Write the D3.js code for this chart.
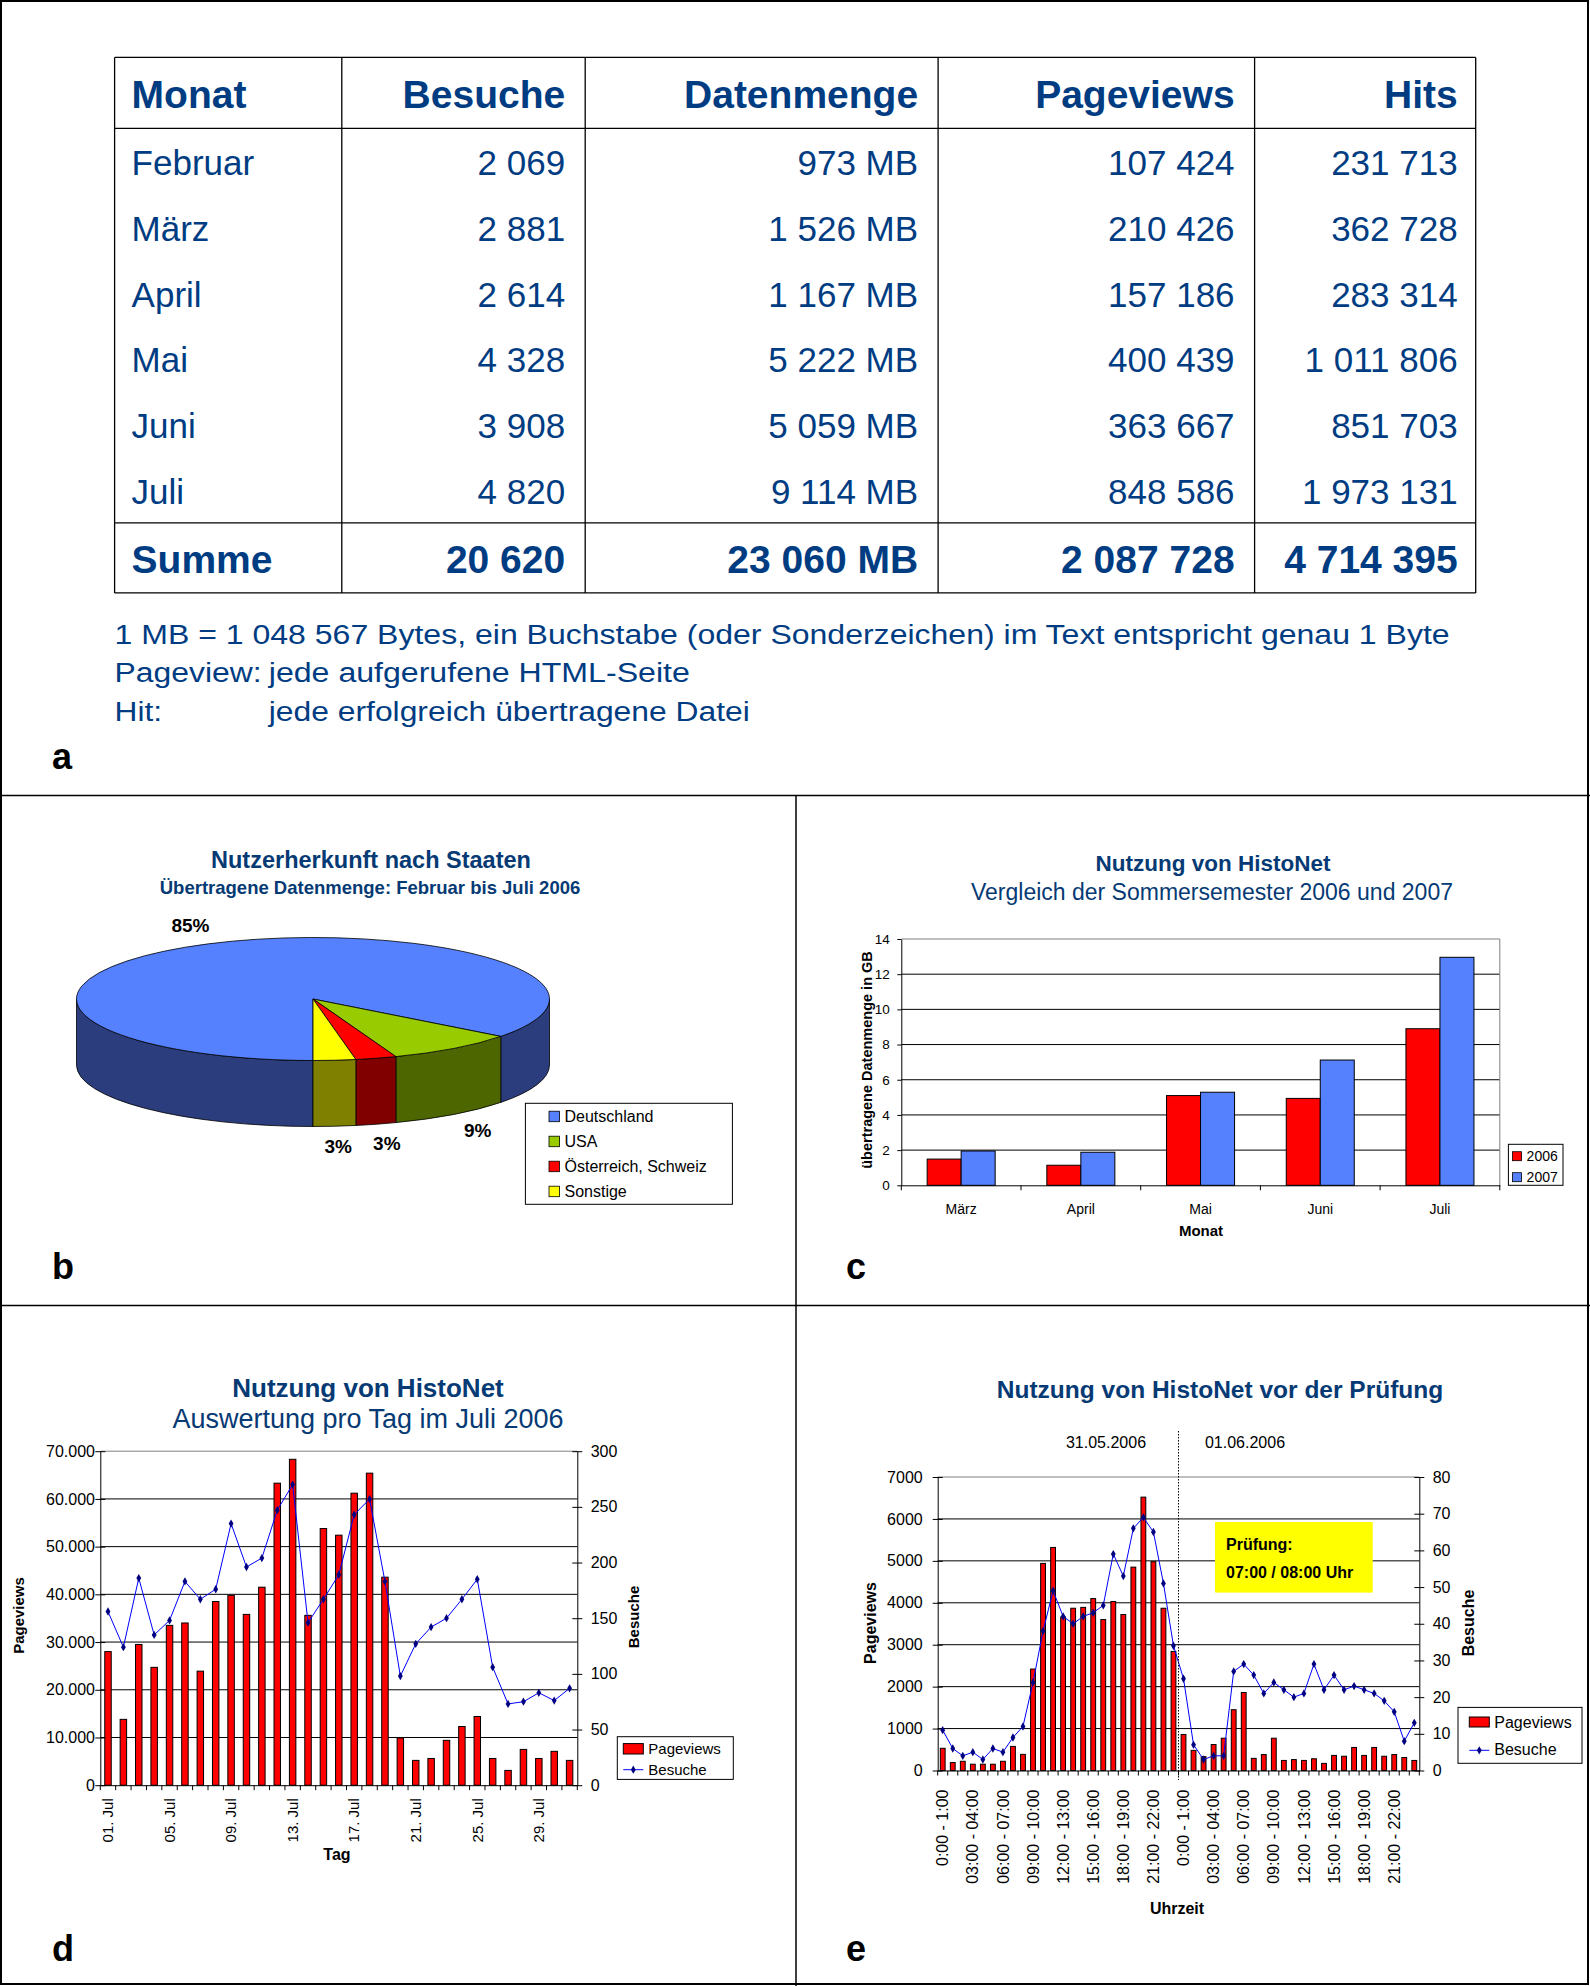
<!DOCTYPE html>
<html lang="de">
<head>
<meta charset="UTF-8">
<title>HistoNet Nutzung</title>
<style>
  body { margin: 0; background: #fff; }
  svg { display: block; }
  text { font-family: Arial, "Liberation Sans", sans-serif; }
</style>
</head>
<body>
<svg id="fig" width="1590" height="1986"></svg>
<script src="https://d3js.org/d3.v7.min.js"></script>
<script>
// ---- a: Tabelle
const monate = ["Februar", "März", "April", "Mai", "Juni", "Juli"];
const besuche = [2069, 2881, 2614, 4328, 3908, 4820];
const datenmengeMB = [973, 1526, 1167, 5222, 5059, 9114];
const pageviews = [107424, 210426, 157186, 400439, 363667, 848586];
const hits = [231713, 362728, 283314, 1011806, 851703, 1973131];
const summen = [20620, 23060, 2087728, 4714395];
const spalten = ["Monat", "Besuche", "Datenmenge", "Pageviews", "Hits"];

// ---- b: Nutzerherkunft
const staaten = ["Deutschland", "USA", "Österreich, Schweiz", "Sonstige"];
const staatenAnteil = [85.4, 8.9, 2.8, 2.9];

// ---- c: Sommersemester 2006 / 2007 (GB)
const cMonate = ["März", "April", "Mai", "Juni", "Juli"];
const cJahre = ["2006", "2007"];
const cGB2006 = [1.49, 1.14, 5.10, 4.94, 8.90];
const cGB2007 = [1.95, 1.88, 5.29, 7.12, 12.96];
const cYTicks = [0, 2, 4, 6, 8, 10, 12, 14];

// ---- d: pro Tag im Juli 2006
const dTage = ["01. Jul","02. Jul","03. Jul","04. Jul","05. Jul","06. Jul","07. Jul","08. Jul",
  "09. Jul","10. Jul","11. Jul","12. Jul","13. Jul","14. Jul","15. Jul","16. Jul","17. Jul",
  "18. Jul","19. Jul","20. Jul","21. Jul","22. Jul","23. Jul","24. Jul","25. Jul","26. Jul",
  "27. Jul","28. Jul","29. Jul","30. Jul","31. Jul"];
const dPageviews = [28000, 13800, 29500, 24700, 33500, 34000, 23900, 38500, 39800, 35800, 41500,
  63300, 68300, 35600, 53800, 52400, 61200, 65400, 43600, 9900, 5200, 5600, 9400, 12300, 14400,
  5600, 3100, 7500, 5600, 7100, 5200];
const dBesuche = [156, 124, 186, 135, 148, 183, 167, 176, 235, 196, 204, 247, 270, 146, 167, 189,
  243, 257, 183, 98, 127, 142, 150, 167, 185, 106, 73, 75, 83, 76, 87];
const dYLTicks = [0, 10000, 20000, 30000, 40000, 50000, 60000, 70000];
const dYRTicks = [0, 50, 100, 150, 200, 250, 300];

// ---- e: vor der Prüfung (31.05. / 01.06.2006, je Stunde)
const eStunden = ["0:00 - 1:00","01:00 - 02:00","02:00 - 03:00","03:00 - 04:00","04:00 - 05:00",
  "05:00 - 06:00","06:00 - 07:00","07:00 - 08:00","08:00 - 09:00","09:00 - 10:00","10:00 - 11:00",
  "11:00 - 12:00","12:00 - 13:00","13:00 - 14:00","14:00 - 15:00","15:00 - 16:00","16:00 - 17:00",
  "17:00 - 18:00","18:00 - 19:00","19:00 - 20:00","20:00 - 21:00","21:00 - 22:00","22:00 - 23:00",
  "23:00 - 0:00"];
const eTage = ["31.05.2006", "01.06.2006"];
const ePageviews = [530, 190, 220, 150, 150, 150, 220, 575, 385, 2420, 4940, 5320, 3660, 3870, 3890,
  4100, 3600, 4030, 3720, 4850, 6520, 4980, 3870, 2840,
  860, 480, 330, 620, 770, 1450, 1860, 290, 380, 770, 240, 260, 240, 280, 170, 360, 340, 550,
  360, 550, 340, 380, 310, 240];
const eBesuche = [11, 6, 4, 5, 3, 6, 5, 9, 12, 24, 38, 49, 42, 40, 42, 43, 45, 59, 53, 66, 69, 65, 51, 34,
  25, 7, 3, 4, 4, 27, 29, 26, 21, 24, 22, 20, 21, 29, 22, 26, 22, 23, 22, 21, 19, 16, 8, 13];
const eYLTicks = [0, 1000, 2000, 3000, 4000, 5000, 6000, 7000];
const eYRTicks = [0, 10, 20, 30, 40, 50, 60, 70, 80];

// ---------------------------------------------------------------
const svg = d3.select("#fig");
const TBLUE = "#003c82";
const HBLUE = "#063a74";
const fmtPunkt = d3.formatLocale({decimal: ",", thousands: ".", grouping: [3], currency: ["", ""]}).format(",d");
const fmtLeer = d3.formatLocale({decimal: ",", thousands: " ", grouping: [3], currency: ["", ""]}).format(",d");

// Rahmen
svg.append("rect").attr("x", 1).attr("y", 1).attr("width", 1587).attr("height", 1983)
  .attr("fill", "none").attr("stroke", "#000").attr("stroke-width", 2);
svg.append("line").attr("x1", 0).attr("x2", 1590).attr("y1", 795.5).attr("y2", 795.5).attr("stroke", "#000").attr("stroke-width", 1.5);
svg.append("line").attr("x1", 0).attr("x2", 1590).attr("y1", 1305.5).attr("y2", 1305.5).attr("stroke", "#000").attr("stroke-width", 1.5);
svg.append("line").attr("x1", 796).attr("x2", 796).attr("y1", 795.5).attr("y2", 1986).attr("stroke", "#000").attr("stroke-width", 1.5);

function letter(t, x, y) {
  svg.append("text").attr("x", x).attr("y", y).attr("font-size", 36).attr("font-weight", "bold").text(t);
}
letter("a", 52, 769);
letter("b", 52, 1279);
letter("c", 846, 1279);
letter("d", 52, 1961);
letter("e", 846, 1961);

// ================= a: Tabelle =================
(function () {
  const colX = [114.6, 341.8, 585.2, 938.1, 1254.6, 1475.7];
  const top = 57.4, headY = 128.4, sumY = 522.8, bot = 592.9;
  const g = svg.append("g");
  const ln = (x1, y1, x2, y2) => g.append("line").attr("x1", x1).attr("y1", y1).attr("x2", x2).attr("y2", y2)
    .attr("stroke", "#000").attr("stroke-width", 1.3);
  ln(colX[0], top, colX[5], top); ln(colX[0], headY, colX[5], headY);
  ln(colX[0], sumY, colX[5], sumY); ln(colX[0], bot, colX[5], bot);
  colX.forEach(x => ln(x, top, x, bot));

  const textX = (i) => i === 0 ? colX[0] + 17 : colX[i + 1] - (i === 4 ? 18 : 20);
  const anchor = (i) => i === 0 ? "start" : "end";

  spalten.forEach((s, i) => {
    g.append("text").attr("x", textX(i)).attr("y", 107.6).attr("text-anchor", anchor(i))
      .attr("font-size", 39).attr("font-weight", "bold").attr("fill", TBLUE).text(s);
  });

  const rowY = d3.scalePoint().domain(monate).range([175, 504]);
  const cols = [monate, besuche.map(fmtLeer), datenmengeMB.map(v => fmtLeer(v) + " MB"),
    pageviews.map(fmtLeer), hits.map(fmtLeer)];
  monate.forEach((m, r) => {
    cols.forEach((c, i) => {
      g.append("text").attr("x", textX(i)).attr("y", rowY(m)).attr("text-anchor", anchor(i))
        .attr("font-size", 35).attr("fill", TBLUE).text(c[r]);
    });
  });
  const sumTexte = ["Summe", fmtLeer(summen[0]), fmtLeer(summen[1]) + " MB", fmtLeer(summen[2]), fmtLeer(summen[3])];
  sumTexte.forEach((s, i) => {
    g.append("text").attr("x", textX(i)).attr("y", 572.6).attr("text-anchor", anchor(i))
      .attr("font-size", 39).attr("font-weight", "bold").attr("fill", TBLUE).text(s);
  });

  const note = (t, x, y, len) => g.append("text").attr("x", x).attr("y", y).attr("font-size", 27)
    .attr("fill", TBLUE).attr("textLength", len).attr("lengthAdjust", "spacingAndGlyphs").text(t);
  note("1 MB = 1 048 567 Bytes, ein Buchstabe (oder Sonderzeichen) im Text entspricht genau 1 Byte", 114.6, 643.7, 1335);
  note("Pageview:", 114.6, 681.7, 147);
  note("jede aufgerufene HTML-Seite", 268.8, 681.7, 421);
  note("Hit:", 114.6, 720.8, 47.5);
  note("jede erfolgreich übertragene Datei", 268.8, 720.8, 481);
})();

// ================= b: Torte =================
(function () {
  const g = svg.append("g");
  g.append("text").attr("x", 371).attr("y", 868).attr("text-anchor", "middle").attr("font-size", 23.5)
    .attr("font-weight", "bold").attr("fill", HBLUE).text("Nutzerherkunft nach Staaten");
  g.append("text").attr("x", 370).attr("y", 894).attr("text-anchor", "middle").attr("font-size", 18.5)
    .attr("font-weight", "bold").attr("fill", HBLUE).text("Übertragene Datenmenge: Februar bis Juli 2006");

  const topCol = ["#5581ff", "#99cc00", "#ff0000", "#ffff00"];
  const sideCol = ["#2b3d7c", "#4d6600", "#800000", "#808000"];
  const P = {cx: 313, cy: 999, rx: 236.5, ry: 61.5, h: 66};
  const pt = (a, dy = 0) => [P.cx + P.rx * Math.sin(a), P.cy - P.ry * Math.cos(a) + dy];
  const arcs = d3.pie().sort(null).startAngle(-Math.PI).endAngle(Math.PI)(staatenAnteil);

  const topPath = (a0, a1) => {
    const large = (a1 - a0) > Math.PI ? 1 : 0;
    return `M${P.cx},${P.cy}L${pt(a0)}A${P.rx},${P.ry} 0 ${large} 1 ${pt(a1)}Z`;
  };
  const sidePath = (a0, a1) =>
    `M${pt(a0)}A${P.rx},${P.ry} 0 0 1 ${pt(a1)}L${pt(a1, P.h)}A${P.rx},${P.ry} 0 0 0 ${pt(a0, P.h)}Z`;
  const front = [[-Math.PI, -Math.PI / 2], [Math.PI / 2, Math.PI]];

  arcs.forEach((a, i) => {
    front.forEach(([f0, f1]) => {
      const s = Math.max(a.startAngle, f0), e = Math.min(a.endAngle, f1);
      if (e > s) g.append("path").attr("d", sidePath(s, e)).attr("fill", sideCol[i])
        .attr("stroke", "#000").attr("stroke-width", 0.8).attr("stroke-linejoin", "round");
    });
  });
  arcs.forEach((a, i) => {
    g.append("path").attr("d", topPath(a.startAngle, a.endAngle)).attr("fill", topCol[i])
      .attr("stroke", "#000").attr("stroke-width", 0.8).attr("stroke-linejoin", "round");
  });

  arcs.forEach(a => {
    const m = (a.startAngle + a.endAngle) / 2;
    const fr = -Math.cos(m) > 0;
    const x = P.cx + P.rx * Math.sin(m) * 1.17;
    const y = P.cy - P.ry * Math.cos(m) * 1.33 + (fr ? P.h : 0);
    g.append("text").attr("x", x).attr("y", y).attr("dy", "0.35em").attr("text-anchor", "middle")
      .attr("font-size", 19).attr("font-weight", "bold").text(Math.round(a.data) + "%");
  });

  // Legende
  const lg = g.append("g");
  lg.append("rect").attr("x", 525.4).attr("y", 1103.3).attr("width", 207).attr("height", 101)
    .attr("fill", "#fff").attr("stroke", "#000").attr("stroke-width", 1);
  const ly = d3.scalePoint().domain(staaten).range([1121.7, 1196.7]);
  staaten.forEach((s, i) => {
    lg.append("rect").attr("x", 549).attr("y", ly(s) - 10.5).attr("width", 10.5).attr("height", 10.5)
      .attr("fill", topCol[i]).attr("stroke", "#000").attr("stroke-width", 0.8);
    lg.append("text").attr("x", 564.5).attr("y", ly(s)).attr("font-size", 16).text(s);
  });
})();

// ================= c: Balken 2006/2007 =================
(function () {
  const g = svg.append("g");
  g.append("text").attr("x", 1213).attr("y", 870.7).attr("text-anchor", "middle").attr("font-size", 22.5)
    .attr("font-weight", "bold").attr("fill", HBLUE).text("Nutzung von HistoNet");
  g.append("text").attr("x", 1212).attr("y", 900).attr("text-anchor", "middle").attr("font-size", 23)
    .attr("fill", HBLUE).text("Vergleich der Sommersemester 2006 und 2007");

  const x0 = d3.scaleBand().domain(cMonate).range([901.3, 1499.8]);
  const x1 = d3.scaleBand().domain(cJahre).range([0, x0.bandwidth()]).paddingOuter(0.76);
  const y = d3.scaleLinear().domain([0, 14]).range([1185.3, 939]);
  const [L, R] = x0.range();

  g.selectAll(".grid").data(cYTicks.filter(t => t > 0 && t < 14)).join("line")
    .attr("x1", L).attr("x2", R).attr("y1", d => y(d)).attr("y2", d => y(d)).attr("stroke", "#000");
  g.append("line").attr("x1", L).attr("x2", R).attr("y1", y(14)).attr("y2", y(14)).attr("stroke", "#808080");
  g.append("line").attr("x1", R).attr("x2", R).attr("y1", y(14)).attr("y2", y(0)).attr("stroke", "#808080");

  const colors = {"2006": "#ff0000", "2007": "#5581ff"};
  const series = {"2006": cGB2006, "2007": cGB2007};
  cJahre.forEach(j => {
    g.selectAll(".bar" + j).data(series[j]).join("rect")
      .attr("x", (d, i) => x0(cMonate[i]) + x1(j)).attr("width", x1.bandwidth())
      .attr("y", d => y(d)).attr("height", d => y(0) - y(d))
      .attr("fill", colors[j]).attr("stroke", "#000").attr("stroke-width", 1);
  });

  const ay = g.append("g").attr("transform", `translate(${L},0)`)
    .call(d3.axisLeft(y).tickValues(cYTicks).tickSizeInner(4).tickSizeOuter(0).tickPadding(7.5));
  ay.attr("font-size", 13.5);
  ay.selectAll("text").attr("fill", "#000");

  const ax = g.append("g").attr("transform", `translate(0,${y(0)})`)
    .call(d3.axisBottom(x0).tickSize(0).tickPadding(19));
  ax.attr("font-size", 14);
  ax.selectAll("text").attr("fill", "#000");
  g.selectAll(".xt").data(d3.range(cMonate.length + 1)).join("line")
    .attr("x1", i => L + i * x0.step()).attr("x2", i => L + i * x0.step())
    .attr("y1", y(0)).attr("y2", y(0) + 5).attr("stroke", "#000");

  g.append("text").attr("x", 1201).attr("y", 1236).attr("text-anchor", "middle").attr("font-size", 15)
    .attr("font-weight", "bold").text("Monat");
  g.append("text").attr("transform", "translate(867.4,1060) rotate(-90)").attr("dy", "0.35em")
    .attr("text-anchor", "middle").attr("font-size", 14.5).attr("font-weight", "bold")
    .text("übertragene Datenmenge in GB");

  const lg = g.append("g");
  lg.append("rect").attr("x", 1508.4).attr("y", 1144.3).attr("width", 54.6).attr("height", 41)
    .attr("fill", "#fff").attr("stroke", "#000");
  const ly = d3.scalePoint().domain(cJahre).range([1160.7, 1181.7]);
  cJahre.forEach(j => {
    lg.append("rect").attr("x", 1512.5).attr("y", ly(j) - 9).attr("width", 9).attr("height", 9)
      .attr("fill", colors[j]).attr("stroke", "#000").attr("stroke-width", 0.8);
    lg.append("text").attr("x", 1526.6).attr("y", ly(j)).attr("font-size", 14).text(j);
  });
})();

// gemeinsame Hilfen für d und e
const diamond = d3.symbol().type(d3.symbolDiamond).size(20);
function comboChart(o) {
  const g = svg.append("g");
  const [L, R] = o.x.range();
  const y0 = o.yL.range()[0], yTop = o.yL.range()[1];

  g.selectAll(".grid").data(o.yLTicks.slice(1, -1)).join("line")
    .attr("x1", L).attr("x2", R).attr("y1", d => o.yL(d)).attr("y2", d => o.yL(d)).attr("stroke", "#000");
  g.append("line").attr("x1", L).attr("x2", R).attr("y1", yTop).attr("y2", yTop).attr("stroke", "#808080");

  g.selectAll(".bar").data(o.bars).join("rect")
    .attr("x", (d, i) => o.x(o.keys[i])).attr("width", o.x.bandwidth())
    .attr("y", d => o.yL(d)).attr("height", d => y0 - o.yL(d))
    .attr("fill", "#ff0000").attr("stroke", "#000").attr("stroke-width", 1);

  const axL = g.append("g").attr("transform", `translate(${L},0)`)
    .call(d3.axisLeft(o.yL).tickValues(o.yLTicks).tickFormat(o.fmtL).tickSizeInner(5).tickSizeOuter(0).tickPadding(o.padL));
  axL.selectAll(".tick line").attr("x1", 5);
  axL.attr("font-size", o.fs); axL.selectAll("text").attr("fill", "#000");

  const axR = g.append("g").attr("transform", `translate(${R},0)`)
    .call(d3.axisRight(o.yR).tickValues(o.yRTicks).tickSizeInner(5).tickSizeOuter(0).tickPadding(o.padR));
  axR.selectAll(".tick line").attr("x1", -5);
  axR.attr("font-size", o.fs); axR.selectAll("text").attr("fill", "#000");

  const axB = g.append("g").attr("transform", `translate(0,${y0})`)
    .call(d3.axisBottom(o.x).tickValues(o.keys.filter((k, i) => o.showLabel(i)))
      .tickFormat(o.label).tickSize(0));
  axB.attr("font-size", o.fsX);
  axB.selectAll("text").attr("fill", "#000").attr("transform", "rotate(-90)")
    .attr("text-anchor", "end").attr("x", -o.gapX).attr("y", 0).attr("dy", "0.35em");
  g.selectAll(".xt").data(d3.range(o.keys.length + 1)).join("line")
    .attr("x1", i => L + i * o.x.step()).attr("x2", i => L + i * o.x.step())
    .attr("y1", y0).attr("y2", y0 + 5).attr("stroke", "#000");

  const cx = (i) => o.x(o.keys[i]) + o.x.bandwidth() / 2;
  g.append("path").datum(o.line)
    .attr("d", d3.line().x((d, i) => cx(i)).y(d => o.yR(d)))
    .attr("fill", "none").attr("stroke", "#0000ff").attr("stroke-width", 1);
  g.selectAll(".mk").data(o.line).join("path")
    .attr("transform", (d, i) => `translate(${cx(i)},${o.yR(d)})`).attr("d", diamond).attr("fill", "#000080");
  return {g};
}

function legend(g, box, sw, t1, t2, fs) {
  g.append("rect").attr("x", box[0]).attr("y", box[1]).attr("width", box[2]).attr("height", box[3])
    .attr("fill", "#fff").attr("stroke", "#000");
  g.append("rect").attr("x", sw[0]).attr("y", sw[1]).attr("width", 20).attr("height", sw[2])
    .attr("fill", "#ff0000").attr("stroke", "#000");
  g.append("line").attr("x1", sw[0]).attr("x2", sw[0] + 20).attr("y1", sw[3]).attr("y2", sw[3]).attr("stroke", "#0000ff");
  g.append("path").attr("transform", `translate(${sw[0] + 10},${sw[3]})`).attr("d", diamond).attr("fill", "#000080");
  g.append("text").attr("x", sw[0] + 25).attr("y", t1).attr("font-size", fs).text("Pageviews");
  g.append("text").attr("x", sw[0] + 25).attr("y", t2).attr("font-size", fs).text("Besuche");
}

// ================= d: Juli 2006 =================
(function () {
  const x = d3.scaleBand().domain(dTage).range([100.3, 577.3]).paddingInner(0.58).paddingOuter(0.29);
  const yL = d3.scaleLinear().domain([0, 70000]).range([1785.2, 1451.2]);
  const yR = d3.scaleLinear().domain([0, 300]).range([1785.2, 1451.2]);
  const {g} = comboChart({x, yL, yR, keys: dTage, bars: dPageviews, line: dBesuche,
    yLTicks: dYLTicks, yRTicks: dYRTicks, fmtL: fmtPunkt, padL: 0.3, padR: 8.4, fs: 16, fsX: 15,
    showLabel: i => i % 4 === 0, label: d => d, gapX: 13});

  g.append("text").attr("x", 368).attr("y", 1396.8).attr("text-anchor", "middle").attr("font-size", 26)
    .attr("font-weight", "bold").attr("fill", HBLUE).text("Nutzung von HistoNet");
  g.append("text").attr("x", 368).attr("y", 1427.8).attr("text-anchor", "middle").attr("font-size", 27)
    .attr("fill", HBLUE).text("Auswertung pro Tag im Juli 2006");
  g.append("text").attr("transform", "translate(18.3,1615.5) rotate(-90)").attr("dy", "0.35em")
    .attr("text-anchor", "middle").attr("font-size", 15).attr("font-weight", "bold").text("Pageviews");
  g.append("text").attr("transform", "translate(633.7,1617) rotate(-90)").attr("dy", "0.35em")
    .attr("text-anchor", "middle").attr("font-size", 15).attr("font-weight", "bold").text("Besuche");
  g.append("text").attr("x", 337).attr("y", 1860).attr("text-anchor", "middle").attr("font-size", 16)
    .attr("font-weight", "bold").text("Tag");
  legend(g, [617.3, 1736.7, 116, 42.7], [623.3, 1743.6, 10.4, 1769.7], 1754.3, 1775, 15);
})();

// ================= e: vor der Prüfung =================
(function () {
  const keys = d3.range(ePageviews.length);
  const x = d3.scaleBand().domain(keys).range([937.7, 1419.3]).paddingInner(0.52).paddingOuter(0.26);
  const yL = d3.scaleLinear().domain([0, 7000]).range([1770.5, 1477]);
  const yR = d3.scaleLinear().domain([0, 80]).range([1770.5, 1477]);
  const {g} = comboChart({x, yL, yR, keys, bars: ePageviews, line: eBesuche,
    yLTicks: eYLTicks, yRTicks: eYRTicks, fmtL: d3.format("d"), padL: 10, padR: 8.4, fs: 16, fsX: 16,
    showLabel: i => i % 3 === 0, label: i => eStunden[i % 24], gapX: 19});

  // Tagesgrenze
  const xm = x.range()[0] + eStunden.length * x.step();
  g.append("line").attr("x1", xm).attr("x2", xm).attr("y1", 1431).attr("y2", 1780)
    .attr("stroke", "#000").attr("stroke-width", 1).attr("stroke-dasharray", "1.5,1.5");
  g.append("text").attr("x", 1106).attr("y", 1448.3).attr("text-anchor", "middle").attr("font-size", 16).text(eTage[0]);
  g.append("text").attr("x", 1245).attr("y", 1448.3).attr("text-anchor", "middle").attr("font-size", 16).text(eTage[1]);

  g.append("text").attr("x", 1220).attr("y", 1398).attr("text-anchor", "middle").attr("font-size", 24.5)
    .attr("font-weight", "bold").attr("fill", HBLUE).text("Nutzung von HistoNet vor der Prüfung");
  g.append("text").attr("transform", "translate(870,1623) rotate(-90)").attr("dy", "0.35em")
    .attr("text-anchor", "middle").attr("font-size", 16).attr("font-weight", "bold").text("Pageviews");
  g.append("text").attr("transform", "translate(1468,1623) rotate(-90)").attr("dy", "0.35em")
    .attr("text-anchor", "middle").attr("font-size", 16).attr("font-weight", "bold").text("Besuche");
  g.append("text").attr("x", 1177).attr("y", 1914).attr("text-anchor", "middle").attr("font-size", 16)
    .attr("font-weight", "bold").text("Uhrzeit");

  // Hinweis Prüfung
  g.append("rect").attr("x", 1215).attr("y", 1522).attr("width", 157.7).attr("height", 70.6).attr("fill", "#ffff00");
  g.append("text").attr("x", 1226).attr("y", 1549.7).attr("font-size", 16).attr("font-weight", "bold").text("Prüfung:");
  g.append("text").attr("x", 1226).attr("y", 1578.4).attr("font-size", 16).attr("font-weight", "bold").text("07:00 / 08:00 Uhr");

  legend(g, [1458, 1707.4, 124, 55.9], [1469.3, 1717, 10, 1750.3], 1728, 1755.2, 16);
})();
</script>
</body>
</html>
